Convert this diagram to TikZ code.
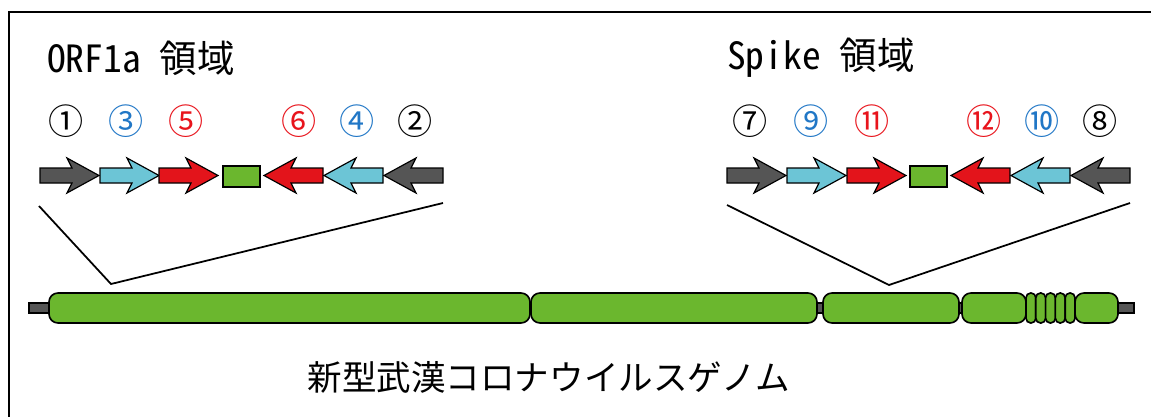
\documentclass[tikz,border=0pt]{standalone}
\usepackage{fontspec}
\newfontfamily\jpfont{Noto Sans CJK JP}
\newfontfamily\jphalf[RawFeature=+hwid]{Noto Sans CJK JP}

\definecolor{primergrey}{HTML}{555555}
\definecolor{primercyan}{HTML}{6CC5D6}
\definecolor{primerred}{HTML}{E3141B}
\definecolor{genegreen}{HTML}{6BB72E}
\definecolor{numblue}{HTML}{2177C6}
\definecolor{numred}{HTML}{E8141C}

% primer arrows, #1 = back end, #2 = fill
\newcommand{\primerright}[2]{%
  \draw[primer,fill=#2,shift={(#1,175.5)}] (0,-7.5) -- (32,-7.5) -- (27,-17.5)
    -- (59,0) -- (27,17.5) -- (32,7.5) -- (0,7.5) -- cycle;}
\newcommand{\primerleft}[2]{%
  \draw[primer,fill=#2,shift={(#1,175.5)},xscale=-1] (0,-7.5) -- (32,-7.5) -- (27,-17.5)
    -- (59,0) -- (27,17.5) -- (32,7.5) -- (0,7.5) -- cycle;}

\begin{document}
\begin{tikzpicture}[x=0.03cm,y=-0.03cm,
    primer/.style={line width=1pt,line join=miter},
    segment/.style={line width=1.4pt,fill=genegreen,rounded corners=0.27cm},
    circnum/.style={inner sep=0pt,font=\jpfont\fontsize{30}{30}\selectfont},
    title/.style={anchor=west,inner sep=0pt,font=\jphalf\fontsize{32}{32}\selectfont}]
        \useasboundingbox (0,0) rectangle (1151,416);

        % Frame
        \draw[line width=1.4pt] (9,430) -- (9,12) -- (1160,12);

        % Region titles
        \node[title] (orftitle) at (47,58) {ORF1a 領域};
        \node[title] (spiketitle) at (727,58) {Spike 領域};

        % Primer numbers
        \node[circnum] (c1) at (66,121) {①};
        \node[circnum,numblue] (c3) at (126,121) {③};
        \node[circnum,numred] (c5) at (186,121) {⑤};
        \node[circnum,numred] (c6) at (299,121) {⑥};
        \node[circnum,numblue] (c4) at (357,121) {④};
        \node[circnum] (c2) at (415,121) {②};
        \node[circnum] (c7) at (750,121) {⑦};
        \node[circnum,numblue] (c9) at (811,121) {⑨};
        \node[circnum,numred] (c11) at (872,121) {⑪};
        \node[circnum,numred] (c12) at (984,121) {⑫};
        \node[circnum,numblue] (c10) at (1042,121) {⑩};
        \node[circnum] (c8) at (1100,121) {⑧};

        % ORF1a primers
        \primerright{40}{primergrey}
        \primerright{100}{primercyan}
        \primerright{159}{primerred}
        \draw[primer,fill=genegreen] (223,166) rectangle (260,187);
        \primerleft{323}{primerred}
        \primerleft{383}{primercyan}
        \primerleft{443}{primergrey}

        % Spike primers
        \primerright{727}{primergrey}
        \primerright{787}{primercyan}
        \primerright{847}{primerred}
        \draw[primer,fill=genegreen] (910,166) rectangle (947,187);
        \primerleft{1010}{primerred}
        \primerleft{1070}{primercyan}
        \primerleft{1130}{primergrey}

        % Zoom lines
        \coordinate (orfL) at (39,206);
        \coordinate (orfV) at (111,284);
        \coordinate (orfR) at (443,203);
        \coordinate (spkL) at (727,205);
        \coordinate (spkV) at (889,285);
        \coordinate (spkR) at (1130,203);
        \draw[line width=1.5pt] (orfL) -- (orfV) -- (orfR);
        \draw[line width=1.5pt] (spkL) -- (spkV) -- (spkR);

        % Genome
        \draw[line width=1pt,fill=primergrey] (29,303) rectangle (1134,313);
        \draw[segment] (49,293) rectangle (530,323);
        \draw[segment] (531,293) rectangle (817,323);
        \draw[segment] (823,293) rectangle (959,323);
        \draw[segment] (962,293) rectangle (1026,323);
        \foreach \i in {0,...,4}
          \draw[segment,rounded corners=0.14cm] (1026+9.8*\i,293) rectangle ++(9.8,30);
        \draw[segment] (1075,293) rectangle (1118,323);

        % Genome label
        \node[inner sep=0pt,font=\jpfont\fontsize{29.5}{29.5}\selectfont] (genome) at (549,377) {新型武漢コロナウイルスゲノム};
    \end{tikzpicture}
\end{document}
